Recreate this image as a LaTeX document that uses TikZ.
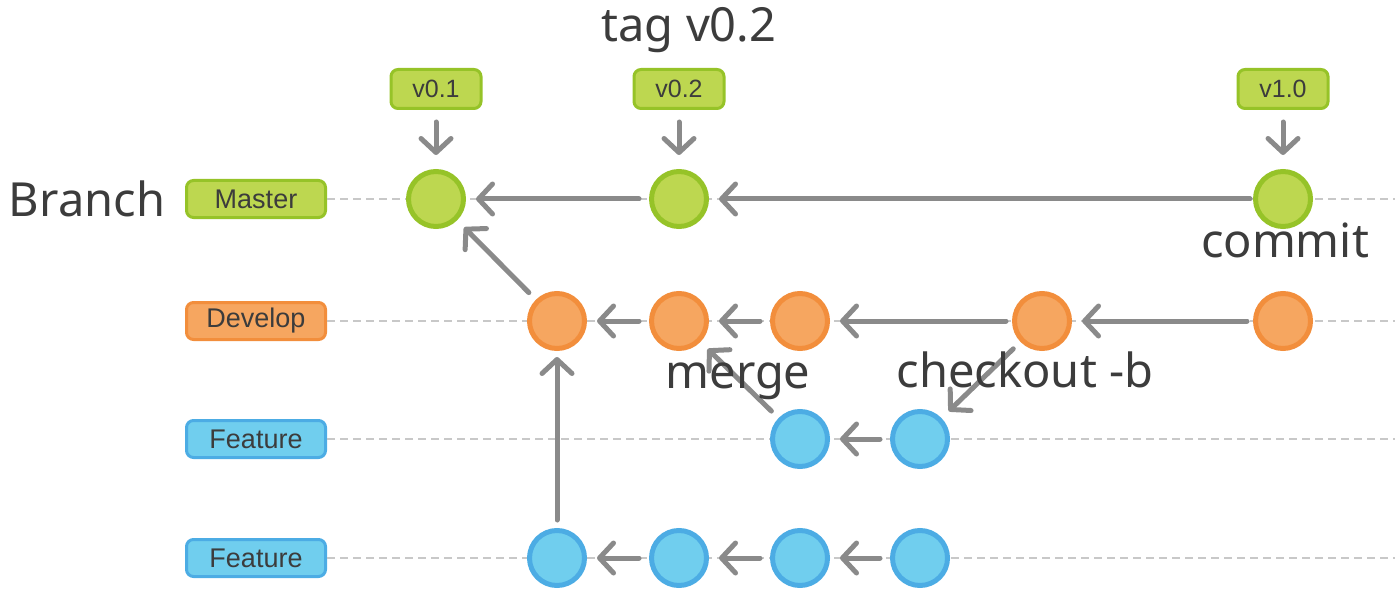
\documentclass[tikz,border=0pt]{standalone}
\usepackage{fontspec}
\setmainfont{Noto Sans}
\newfontfamily\boxfont{Liberation Sans}
\usetikzlibrary{arrows.meta}
\definecolor{gfill}{RGB}{189,215,80}
\definecolor{gline}{RGB}{150,195,40}
\definecolor{ofill}{RGB}{246,166,96}
\definecolor{oline}{RGB}{242,142,60}
\definecolor{bfill}{RGB}{112,206,238}
\definecolor{bline}{RGB}{76,172,228}
\definecolor{arrowgray}{RGB}{138,138,138}
\definecolor{dashgray}{RGB}{200,200,200}
\definecolor{notetext}{RGB}{60,60,60}
\definecolor{boxtext}{RGB}{60,60,60}
\begin{document}
\begin{tikzpicture}[x=0.5pt,y=-0.5pt,
  commitnode/.style={circle, minimum size=27.5pt, inner sep=0pt, line width=2.5pt},
  gc/.style={commitnode, fill=gfill, draw=gline},
  oc/.style={commitnode, fill=ofill, draw=oline},
  bc/.style={commitnode, fill=bfill, draw=bline},
  lbl/.style={rounded corners=3.5pt, line width=1.5pt, minimum width=69.5pt, minimum height=18.5pt, inner sep=0pt, font=\boxfont\fontsize{13.5}{14}\selectfont, text=boxtext},
  glbl/.style={lbl, fill=gfill, draw=gline},
  olbl/.style={lbl, fill=ofill, draw=oline},
  blbl/.style={lbl, fill=bfill, draw=bline},
  tagbox/.style={glbl, minimum width=45pt, minimum height=19.5pt, font=\boxfont\fontsize{12.5}{13}\selectfont},
  flow/.style={draw=arrowgray, line width=2.5pt, line cap=round, -{Straight Barb[length=7pt,width=15pt,line cap=round,line join=round]}, shorten <=5pt, shorten >=5pt},
  guide/.style={draw=dashgray, line width=1pt, dash pattern=on 4pt off 2.5pt},
  note/.style={font=\fontsize{23.5}{27}\selectfont, text=notetext, inner sep=0pt}
]
\useasboundingbox (0,0) rectangle (1395,593);
% branch labels
\node[glbl] (lm) at (256,199) {Master};
\node[olbl] (ld) at (256,321) {Develop};
\node[blbl] (lf1) at (256,439) {Feature};
\node[blbl] (lf2) at (256,558) {Feature};
\coordinate (em) at (1395,199);
\coordinate (ed) at (1395,321);
\coordinate (ef1) at (1395,439);
\coordinate (ef2) at (1395,558);
\draw[guide] (lm.east) -- (em);
\draw[guide] (ld.east) -- (ed);
\draw[guide] (lf1.east) -- (ef1);
\draw[guide] (lf2.east) -- (ef2);
% commits
\node[gc] (m1) at (436,199) {};
\node[gc] (m2) at (679,199) {};
\node[gc] (m3) at (1283,199) {};
\node[oc] (d1) at (557,321) {};
\node[oc] (d2) at (679,321) {};
\node[oc] (d3) at (800,321) {};
\node[oc] (d4) at (1042,321) {};
\node[oc] (d5) at (1283,321) {};
\node[bc] (f1) at (800,439) {};
\node[bc] (f2) at (920,439) {};
\node[bc] (g1) at (557,558) {};
\node[bc] (g2) at (679,558) {};
\node[bc] (g3) at (800,558) {};
\node[bc] (g4) at (920,558) {};
% tags
\node[tagbox] (t1) at (436,89) {v0.1};
\node[tagbox] (t2) at (679,89) {v0.2};
\node[tagbox] (t3) at (1283,89) {v1.0};
\draw[flow, shorten <=6pt, shorten >=7pt] (t1) -- (m1);
\draw[flow, shorten <=6pt, shorten >=7pt] (t2) -- (m2);
\draw[flow, shorten <=6pt, shorten >=7pt] (t3) -- (m3);
% arrows
\draw[flow, shorten <=1.5pt] (m3) -- (m2);
\draw[flow] (m2) -- (m1);
\draw[flow] (d1) -- (m1);
\draw[flow] (d2) -- (d1);
\draw[flow] (d3) -- (d2);
\draw[flow, shorten <=3pt] (d4) -- (d3);
\draw[flow, shorten <=3pt] (d5) -- (d4);
\draw[flow] (f1) -- (d2);
\draw[flow] (d4) -- (f2);
\draw[flow] (f2) -- (f1);
\draw[flow, shorten <=4pt, shorten >=3pt] (g1) -- (d1);
\draw[flow] (g2) -- (g1);
\draw[flow] (g3) -- (g2);
\draw[flow] (g4) -- (g3);
% annotations
\node[note] (ntag) at (689,30) {tag v0.2};
\node[note] (nbranch) at (87,199) {Branch};
\node[note] (ncommit) at (1285,240) {commit};
\node[note] (nmerge) at (738,381) {merge};
\node[note] (ncheckout) at (1025,370) {checkout -b};
\end{tikzpicture}
\end{document}
